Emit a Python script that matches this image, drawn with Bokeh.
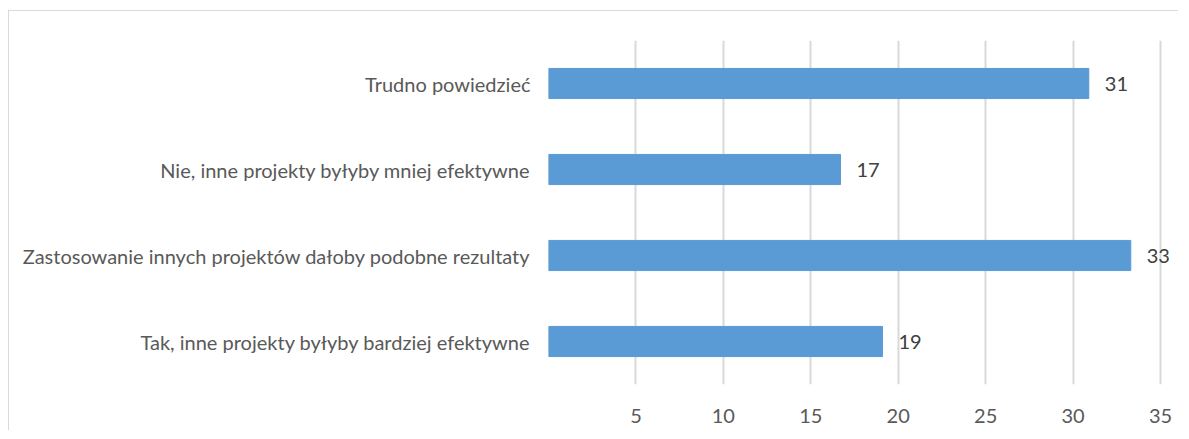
from bokeh.plotting import figure
from bokeh.models import ColumnDataSource, FixedTicker, FactorRange, Range1d, LabelSet
from bokeh.core.properties import value
from bokeh.embed import file_html
from bokeh.resources import INLINE

categories = [
    "Tak, inne projekty byłyby bardziej efektywne",
    "Zastosowanie innych projektów dałoby podobne rezultaty",
    "Nie, inne projekty byłyby mniej efektywne",
    "Trudno powiedzieć",
]
values = [19.1, 33.3, 16.7, 30.9]
labels = ["19", "33", "17", "31"]
x_ticks = [0, 5, 10, 15, 20, 25, 30, 35]

FONT = "Lato"

src = ColumnDataSource(dict(cat=categories, val=values, lab=labels))

# frame spans 0..35 over 612 px; extend right so value labels are not clipped
p = figure(
    width=1170, height=420,
    y_range=FactorRange(*categories, range_padding=0),
    x_range=Range1d(0, 35 + 19 * 35 / 612),
    output_backend="svg", toolbar_location=None,
    min_border_left=539, min_border_right=0, min_border_top=29, min_border_bottom=47,
    styles={"border-top": "1px solid #d9d9d9", "border-left": "1px solid #d9d9d9",
            "margin-left": "8px", "margin-top": "10px"},
)
p.outline_line_color = None
p.background_fill_color = "white"

p.hbar(y="cat", right="val", left=0, height=0.35, source=src,
       fill_color="#5B9BD5", line_color="#5B9BD5")

p.add_layout(LabelSet(x="val", y="cat", text="lab", source=src,
                      x_offset=16, text_align="left", text_baseline="middle",
                      text_font=value(FONT), text_font_size="20px", text_color="#404040"))

p.xaxis.ticker = FixedTicker(ticks=x_ticks)
p.xaxis.major_label_overrides = {0: ""}
p.xaxis.axis_line_color = None
p.xaxis.major_tick_line_color = None
p.xaxis.minor_tick_line_color = None
p.xaxis.major_label_standoff = 18
p.xaxis.major_label_text_font = FONT
p.xaxis.major_label_text_font_size = "20px"
p.xaxis.major_label_text_color = "#595959"

p.yaxis.axis_line_color = None
p.yaxis.major_tick_line_color = None
p.yaxis.minor_tick_line_color = None
p.yaxis.major_label_standoff = 12
p.yaxis.major_label_text_font = FONT
p.yaxis.major_label_text_font_size = "20px"
p.yaxis.major_label_text_color = "#595959"

p.xgrid.grid_line_color = "#d9d9d9"
p.xgrid.grid_line_width = 2
p.ygrid.grid_line_color = None

open("out.html", "w").write(file_html(p, INLINE))
